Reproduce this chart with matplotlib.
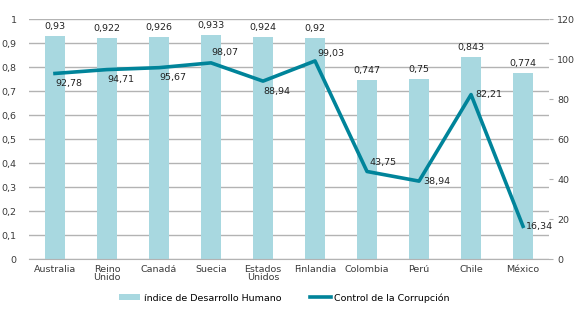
import matplotlib
matplotlib.use("Agg")
import matplotlib.pyplot as plt
from matplotlib import font_manager

categories = ["Australia", "Reino\nUnido", "Canadá", "Suecia", "Estados\nUnidos",
              "Finlandia", "Colombia", "Perú", "Chile", "México"]
idh = [0.93, 0.922, 0.926, 0.933, 0.924, 0.92, 0.747, 0.75, 0.843, 0.774]
corrupcion = [92.78, 94.71, 95.67, 98.07, 88.94, 99.03, 43.75, 38.94, 82.21, 16.34]
idh_labels = ["0,93", "0,922", "0,926", "0,933", "0,924", "0,92", "0,747", "0,75", "0,843", "0,774"]
corr_labels = ["92,78", "94,71", "95,67", "98,07", "88,94", "99,03", "43,75", "38,94", "82,21", "16,34"]
left_ticks = [0, 0.1, 0.2, 0.3, 0.4, 0.5, 0.6, 0.7, 0.8, 0.9, 1.0]
left_tick_labels = ["0", "0,1", "0,2", "0,3", "0,4", "0,5", "0,6", "0,7", "0,8", "0,9", "1"]
right_ticks = [0, 20, 40, 60, 80, 100, 120]

names = {f.name for f in font_manager.fontManager.ttflist}
fam = "Liberation Sans Narrow" if "Liberation Sans Narrow" in names else "DejaVu Sans"
plt.rcParams["font.family"] = [fam, "DejaVu Sans"]

fs = 6.8
txt = "#3a3a3a"
bar_c = "#A8D8E0"
line_c = "#00849A"

fig = plt.figure(figsize=(5.81, 3.09), dpi=100)
ax = fig.add_axes([0.0499, 0.1618, 0.8951, 0.7767])
x = list(range(len(categories)))
ax.set_xlim(-0.5, len(categories) - 0.5)
ax.set_ylim(0, 1)
ax.set_yticks(left_ticks)
ax.set_yticklabels(left_tick_labels, fontsize=fs, color=txt)
ax.yaxis.grid(True, color="#b3b3b3", linewidth=1)
ax.set_axisbelow(True)
for s in ["top", "right", "left"]:
    ax.spines[s].set_visible(False)
ax.spines["bottom"].set_color("#b3b3b3")
ax.tick_params(axis="y", length=0, pad=9)
ax.tick_params(axis="x", length=0, pad=4)
ax.set_xticks(x)
ax.set_xticklabels(categories, fontsize=fs, color=txt, linespacing=0.85, va="top")

bars = ax.bar(x, idh, width=0.4, color=bar_c, label="índice de Desarrollo Humano", zorder=2)
for xi, v, lab in zip(x, idh, idh_labels):
    ax.annotate(lab, (xi, v), xytext=(0, 3.5), textcoords="offset points",
                ha="center", va="bottom", fontsize=fs, color="#222222")

ax2 = ax.twinx()
ax2.set_ylim(0, 120)
ax2.set_yticks(right_ticks)
ax2.set_yticklabels([str(t) for t in right_ticks], fontsize=fs, color=txt)
for s in ["top", "right", "left", "bottom"]:
    ax2.spines[s].set_visible(False)
ax2.tick_params(axis="y", length=3, color="#b3b3b3", pad=3)
ln, = ax2.plot(x, corrupcion, color=line_c, linewidth=2.6, label="Control de la Corrupción", zorder=3)

offsets = [(0, -4, "left", "top"), (0, -4, "left", "top"), (0, -4, "left", "top"),
           (0, 4, "left", "bottom"), (0, -4, "left", "top"), (2, 2, "left", "bottom"),
           (2, 3, "left", "bottom"), (3, 0, "left", "center"), (3, 0, "left", "center"),
           (2, 0, "left", "center")]
for xi, v, lab, (dx, dy, ha, va) in zip(x, corrupcion, corr_labels, offsets):
    ax2.annotate(lab, (xi, v), xytext=(dx, dy), textcoords="offset points",
                 ha=ha, va=va, fontsize=fs, color="#222222")

fig.legend([bars, ln], ["índice de Desarrollo Humano", "Control de la Corrupción"],
           loc="center", bbox_to_anchor=(0.49, 0.036), ncol=2, frameon=False,
           fontsize=fs, handlelength=2.2, handleheight=0.6, columnspacing=3.0,
           handletextpad=0.4)
fig.savefig("out.png", dpi=100)
